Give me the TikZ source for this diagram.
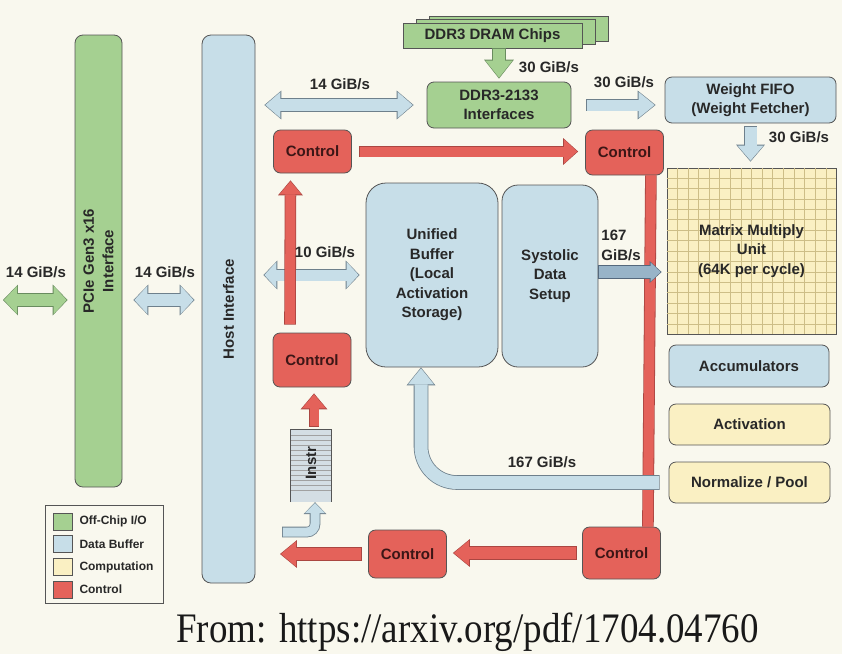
\documentclass[tikz,border=0pt]{standalone}
\usepackage{fontspec}
\setmainfont{Liberation Sans}
\newfontfamily\srcfont{Liberation Serif}
\usetikzlibrary{arrows.meta,positioning,calc}

\definecolor{bgc}{RGB}{249,248,238}
\definecolor{greenc}{RGB}{165,208,145}
\definecolor{bluec}{RGB}{199,222,232}
\definecolor{yelc}{RGB}{250,240,195}
\definecolor{redc}{RGB}{228,98,90}
\definecolor{linec}{RGB}{85,85,85}
\definecolor{txtc}{RGB}{40,40,40}
\definecolor{ctltxt}{RGB}{60,22,22}
\definecolor{blueedge}{RGB}{110,128,140}
\definecolor{greenedge}{RGB}{105,140,95}
\definecolor{rededge}{RGB}{170,70,65}
\definecolor{darkblue}{RGB}{152,180,200}
\definecolor{darkedge}{RGB}{85,105,125}
\definecolor{gridc}{RGB}{205,190,135}
\definecolor{stackc}{RGB}{212,222,228}

\newcommand{\lbl}{\fontsize{15}{19.5}\selectfont\bfseries}
\newcommand{\lgd}{\fontsize{12}{14}\selectfont\bfseries}

\tikzset{
  box/.style={draw=linec, line width=0.8pt, rounded corners=7pt, font=\lbl, text=txtc, align=center, inner sep=0pt},
  ctl/.style={box, fill=redc, text=ctltxt, minimum width=78, minimum height=45},
  rot/.style={font=\lbl, text=txtc, rotate=90, align=center},
  tag/.style={font=\lbl, text=txtc, inner sep=0pt},
  swatch/.style={draw=linec, line width=0.6pt, minimum width=19, minimum height=17, inner sep=0pt},
  fatset/.code n args={3}{\pgfmathsetlengthmacro\fatw{#1+1.6pt}%
    \pgfmathsetlengthmacro\fath{#2+2.8pt}\pgfmathsetlengthmacro\fatl{#3+1.9pt}},
  fat/.style n args={5}{fatset={#1pt}{#2pt}{#3pt}, draw=#4, line width=#1pt,
    shorten >=1pt, shorten <=0.8pt,
    -{Triangle[length=#3pt, width=#2pt, line width=0pt]},
    preaction={draw=#5, line width=\fatw, shorten >=0pt, shorten <=0pt,
      -{Triangle[length=\fatl, width=\fath, line width=0pt]}}},
  fatt/.style n args={5}{fatset={#1pt}{#2pt}{#3pt}, draw=#4, line width=#1pt,
    shorten >=1pt, shorten <=1pt,
    {Triangle[length=#3pt, width=#2pt, line width=0pt]}-{Triangle[length=#3pt, width=#2pt, line width=0pt]},
    preaction={draw=#5, line width=\fatw, shorten >=0pt, shorten <=0pt,
      {Triangle[length=\fatl, width=\fath, line width=0pt]}-{Triangle[length=\fatl, width=\fath, line width=0pt]}}},
  bar/.style={draw=redc, line width=10pt, preaction={draw=rededge, line width=11.6pt}},
}

\begin{document}
\begin{tikzpicture}[x=1pt,y=-1pt]
\useasboundingbox (0,0) rectangle (842,654);
\fill[bgc] (0,0) rectangle (842,654);

% off-chip and host side
\node[box, fill=greenc, minimum width=47, minimum height=452, rounded corners=8pt] (pcie) at (98.5,261) {};
\node[rot] (pcielbl) at (pcie) {PCIe Gen3 x16\\Interface};
\node[box, fill=bluec, minimum width=53, minimum height=548, rounded corners=9pt] (host) at (228.5,309) {};
\node[rot] (hostlbl) at (host) {Host Interface};

% memory
\node[box, fill=greenc, minimum width=179, minimum height=25, sharp corners] (dram3) at (518.5,28.5) {};
\node[box, fill=greenc, minimum width=179, minimum height=25, sharp corners] (dram2) at (505.5,32) {};
\node[box, fill=greenc, minimum width=179, minimum height=25, sharp corners] (dram) at (492.5,35.5) {DDR3 DRAM Chips};
\node[box, fill=greenc, minimum width=144, minimum height=46] (ddr) at (499,105) {DDR3-2133\\Interfaces};
\node[box, fill=bluec, minimum width=171, minimum height=46] (wfifo) at (750.5,100) {Weight FIFO\\(Weight Fetcher)};

% control
\node[ctl, minimum height=43] (ctl1) at (312.5,151.5) {Control};
\node[ctl] (ctl2) at (624.5,152.5) {Control};
\node[ctl, minimum height=54] (ctl3) at (312,360) {Control};
\node[ctl, minimum height=52] (ctl4) at (621.5,553) {Control};
\node[ctl, minimum height=48] (ctl5) at (407.5,554) {Control};

% buffers and compute
\node[box, fill=bluec, minimum width=132, minimum height=184, rounded corners=20pt] (ubuf) at (432,275) {Unified\\Buffer\\(Local\\Activation\\Storage)};
\node[box, fill=bluec, minimum width=96, minimum height=182, rounded corners=16pt] (sds) at (550,276) {Systolic\\Data\\Setup};
\node[box, fill=yelc, minimum width=169, minimum height=166, sharp corners] (mxu) at (751.5,251) {};
\foreach \k in {1,...,15} {
  \draw[gridc, line width=0.6pt] ($(mxu.north west)!\k/16!(mxu.north east)$) -- ($(mxu.south west)!\k/16!(mxu.south east)$);
  \draw[gridc, line width=0.6pt] ($(mxu.north west)!\k/16!(mxu.south west)$) -- ($(mxu.north east)!\k/16!(mxu.south east)$);
}
\node[tag, align=center] (mxulbl) at (mxu) {Matrix Multiply\\Unit\\(64K per cycle)};
\node[box, fill=bluec, minimum width=160, minimum height=42] (acc) at (749,366) {Accumulators};
\node[box, fill=yelc, minimum width=161, minimum height=41] (act) at (749.5,424.5) {Activation};
\node[box, fill=yelc, minimum width=161, minimum height=41] (norm) at (749.5,482.5) {Normalize / Pool};

% instruction stack
\node[fill=stackc, minimum width=40, minimum height=72, inner sep=0pt] (instr) at (311,466) {};
\foreach \k in {1,...,12}
  \draw[linec!55, line width=0.5pt] ($(instr.north west)+(0,\k*5)$) -- ($(instr.north east)+(0,\k*5)$);
\draw[linec, line width=0.7pt] (instr.south west) -- (instr.north west) -- (instr.north east) -- (instr.south east);
\node[rot] (instrlbl) at ([yshift=3pt]instr) {Instr};

% legend
\node[draw=linec, line width=0.7pt, fill=bgc, minimum width=118, minimum height=98, inner sep=0pt] (legend) at (104,554) {};
\foreach \c/\t [count=\i] in {greenc/{Off-Chip I/O}, bluec/{Data Buffer}, yelc/{Computation}, redc/{Control}} {
  \node[swatch, fill=\c] (sw\i) at (62.5,{521.5+22.7*(\i-1)}) {};
  \node[font=\lgd, text=txtc, inner sep=0pt, right=7pt of sw\i] (lg\i) {\t};
}

% data paths
\coordinate (hostIn) at (3,300);
\draw[fatt={12}{28}{13}{greenc}{greenedge}] (hostIn) -- ([xshift=-7pt]pcie.west |- hostIn);
\draw[fatt={12}{28}{13}{bluec}{blueedge}] ([xshift=11pt]pcie.east |- hostIn) -- ([xshift=-7pt]host.west |- hostIn);
\draw[fatt={12}{26}{15}{bluec}{blueedge}] ([xshift=9pt]host.east |- ddr.west) -- ([xshift=-13pt]ddr.west);
\draw[fat={11}{26}{16}{bluec}{blueedge}] ([xshift=15pt]ddr.east) -- ([xshift=-9pt]wfifo.west |- ddr.east);
\draw[fat={12}{27}{17}{greenc}{greenedge}] (ddr.north |- dram.south) -- ([yshift=3pt]ddr.north);
\draw[fat={12}{26}{15}{bluec}{blueedge}] ([yshift=-3pt]wfifo.south) -- ([yshift=6pt]mxu.north -| wfifo.south);
\draw[fatt={11}{26}{12}{bluec}{blueedge}] ([xshift=8pt]host.east |- ubuf.west) -- ([xshift=-6pt]ubuf.west);

% control paths
\draw[fat={10}{24}{13}{redc}{rededge}] ([xshift=7pt]ctl1.east) -- ([xshift=-7pt]ctl2.west |- ctl1.east);
\draw[fat={10}{22}{13}{redc}{rededge}] ([shift={(-22pt,8pt)}]ctl3.north) -- ([shift={(-22pt,-7pt)}]ctl1.south);
\draw[bar] ([xshift=-13pt]ctl2.south east) -- ([xshift=-13pt]ctl4.north east);
\draw[fat={12}{25}{15}{redc}{rededge}] ([xshift=-5pt]ctl4.west) -- ([xshift=6pt]ctl5.east |- ctl4.west);
\coordinate (ctlOut) at (280,554);
\draw[fat={12}{25}{15}{redc}{rededge}] ([xshift=-6pt]ctl5.west) -- (ctlOut);
\draw[fat={9}{24}{14}{redc}{rededge}] ([shift={(3pt,3pt)}]instr.north) -- ([shift={(2pt,-6pt)}]ctl3.south);
\coordinate (instrIn) at (282,532);
\draw[fat={9}{20}{10}{bluec}{blueedge}, rounded corners=8pt] (instrIn) -| ([xshift=4pt]instr.south);

% activations
\coordinate (sdsOut) at ([yshift=4pt]sds.east);
\draw[fat={12}{19}{10}{darkblue}{darkedge}] (sdsOut) -- ([xshift=-5pt]mxu.west |- sdsOut);
\coordinate (normOut) at ([xshift=-9pt]norm.west);
\draw[fat={13}{26}{16}{bluec}{blueedge}, rounded corners=36pt] (normOut) -| ([xshift=-11pt]ubuf.south);

% bandwidth labels
\node[tag] (bw1) at (36,272) {14 GiB/s};
\node[tag] (bw2) at (165,272) {14 GiB/s};
\node[tag] (bw3) at (340,84) {14 GiB/s};
\node[tag] (bw4) at (549,67) {30 GiB/s};
\node[tag] (bw5) at (624,82) {30 GiB/s};
\node[tag] (bw6) at (799,137) {30 GiB/s};
\node[tag] (bw7) at (325,252) {10 GiB/s};
\node[tag, align=left] (bw8) at (621,245.5) {167\\GiB/s};
\node[tag] (bw9) at (542,462) {167 GiB/s};

\node[font=\srcfont\fontsize{42}{48}\selectfont, xscale=0.88, anchor=base, text=black!90] (src) at (467.5,642) {From: https://arxiv.org/pdf/1704.04760};
\end{tikzpicture}
\end{document}
